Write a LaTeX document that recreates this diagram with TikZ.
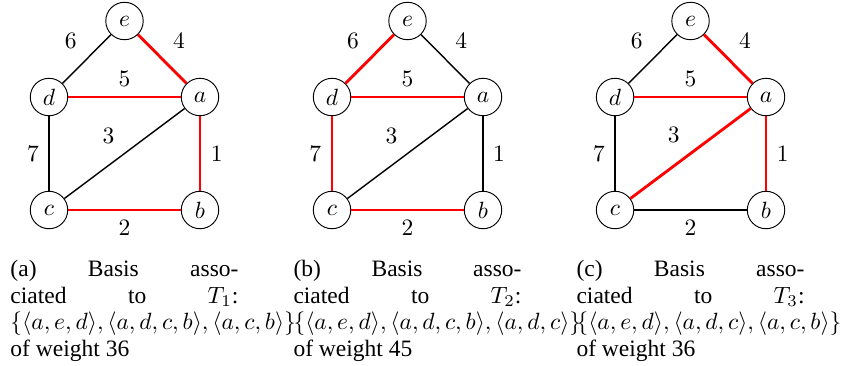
\documentclass[tikz,border=0pt]{standalone}
\usepackage[no-math]{fontspec}
\setmainfont{Liberation Serif}
\usepackage{amsmath}
\usetikzlibrary{positioning}

\begin{document}
\begin{tikzpicture}[vertex/.style={draw, circle, minimum size=0.56cm, inner sep=0pt, line width=0.4pt},
                    tree/.style={red, line width=1.2pt},
                    cotree/.style={black, line width=0.6pt},
                    wt/.style={text=black, inner sep=4pt},
                    capline/.style={anchor=base west, inner sep=0pt}]
\useasboundingbox (0,0) rectangle (12.758,-5.474);

% (a)
\begin{scope}[shift={(0.733,-1.451)}]
\node[vertex] (d1) at (0,0) {$d$};
\node[vertex] (a1) at (2.258,0) {$a$};
\node[vertex] (c1) at (0,-1.69) {$c$};
\node[vertex] (b1) at (2.258,-1.69) {$b$};
\node[vertex] (e1) at (1.129,1.137) {$e$};
\draw[cotree] (d1) -- node[wt, above left] {$6$} (e1);
\draw[tree] (e1) -- node[wt, above right] {$4$} (a1);
\draw[tree] (d1) -- node[wt, above] {$5$} (a1);
\draw[cotree] (a1) -- node[wt, above left] {$3$} (c1);
\draw[cotree] (d1) -- node[wt, left] {$7$} (c1);
\draw[tree] (a1) -- node[wt, right] {$1$} (b1);
\draw[tree] (c1) -- node[wt, below] {$2$} (b1);
\end{scope}
\node[capline] (capa1) at (0.15,-4.128) {\makebox[3.41cm][s]{(a) Basis asso-}};
\node[capline] (capa2) at (0.15,-4.532) {\makebox[3.41cm][s]{ciated to $T_1$:}};
\node[capline] (capa3) at (0.15,-4.921) {$\{\langle a,e,d\rangle,\langle a,d,c,b\rangle,\langle a,c,b\rangle\}$};
\node[capline] (capa4) at (0.15,-5.325) {of weight 36};

% (b)
\begin{scope}[shift={(4.966,-1.451)}]
\node[vertex] (d2) at (0,0) {$d$};
\node[vertex] (a2) at (2.258,0) {$a$};
\node[vertex] (c2) at (0,-1.69) {$c$};
\node[vertex] (b2) at (2.258,-1.69) {$b$};
\node[vertex] (e2) at (1.129,1.137) {$e$};
\draw[tree] (d2) -- node[wt, above left] {$6$} (e2);
\draw[cotree] (e2) -- node[wt, above right] {$4$} (a2);
\draw[tree] (d2) -- node[wt, above] {$5$} (a2);
\draw[cotree] (a2) -- node[wt, above left] {$3$} (c2);
\draw[tree] (d2) -- node[wt, left] {$7$} (c2);
\draw[cotree] (a2) -- node[wt, right] {$1$} (b2);
\draw[tree] (c2) -- node[wt, below] {$2$} (b2);
\end{scope}
\node[capline] (capb1) at (4.383,-4.128) {\makebox[3.41cm][s]{(b) Basis asso-}};
\node[capline] (capb2) at (4.383,-4.532) {\makebox[3.41cm][s]{ciated to $T_2$:}};
\node[capline] (capb3) at (4.383,-4.921) {$\{\langle a,e,d\rangle,\langle a,d,c,b\rangle,\langle a,d,c\rangle\}$};
\node[capline] (capb4) at (4.383,-5.325) {of weight 45};

% (c)
\begin{scope}[shift={(9.199,-1.451)}]
\node[vertex] (d3) at (0,0) {$d$};
\node[vertex] (a3) at (2.258,0) {$a$};
\node[vertex] (c3) at (0,-1.69) {$c$};
\node[vertex] (b3) at (2.258,-1.69) {$b$};
\node[vertex] (e3) at (1.129,1.137) {$e$};
\draw[cotree] (d3) -- node[wt, above left] {$6$} (e3);
\draw[tree] (e3) -- node[wt, above right] {$4$} (a3);
\draw[tree] (d3) -- node[wt, above] {$5$} (a3);
\draw[tree] (a3) -- node[wt, above left] {$3$} (c3);
\draw[cotree] (d3) -- node[wt, left] {$7$} (c3);
\draw[tree] (a3) -- node[wt, right] {$1$} (b3);
\draw[cotree] (c3) -- node[wt, below] {$2$} (b3);
\end{scope}
\node[capline] (capc1) at (8.616,-4.128) {\makebox[3.41cm][s]{(c) Basis asso-}};
\node[capline] (capc2) at (8.616,-4.532) {\makebox[3.41cm][s]{ciated to $T_3$:}};
\node[capline] (capc3) at (8.616,-4.921) {$\{\langle a,e,d\rangle,\langle a,d,c\rangle,\langle a,c,b\rangle\}$};
\node[capline] (capc4) at (8.616,-5.325) {of weight 36};
\end{tikzpicture}
\end{document}
